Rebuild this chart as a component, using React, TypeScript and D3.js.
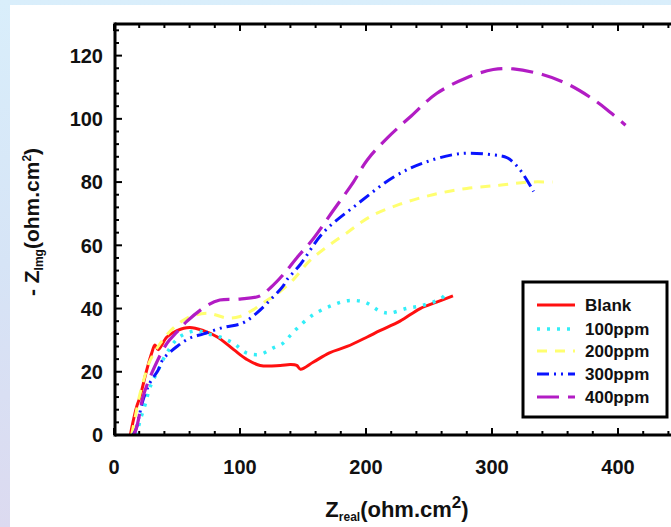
import React from "react";
import * as d3 from "d3";

const W = 671;
const H = 527;

const blankX = [13, 15, 18, 20.6, 26, 30, 32.5, 35, 42, 50, 60, 71, 82, 95, 105, 116, 132, 140, 145, 148, 158, 171, 185, 201, 211, 227, 243, 256, 269];
const blankY = [0, 4, 9, 12, 20.6, 26, 28.5, 27, 31, 33, 34, 33, 31, 27, 24, 22, 22, 22.3, 22, 20.8, 23, 26, 28, 31, 33, 36, 40, 42, 44];

const p100X = [17, 19, 21, 25, 28.5, 35, 42, 52, 66, 74, 84, 95, 105, 116, 126, 134, 140, 146, 158, 173, 186, 199, 212, 219, 232, 245, 259, 262];
const p100Y = [0, 2, 5, 10, 15, 20.5, 26, 31, 33, 32, 31, 29, 26, 25.5, 27.5, 29, 31.5, 34, 38, 41, 42.5, 42, 39, 38.6, 40, 41, 43, 44];

const p200X = [14, 17, 20, 24, 28, 35, 45, 58, 74, 90, 100, 110, 121, 129, 142, 155, 169, 185, 203, 227, 253, 280, 306, 328, 348];
const p200Y = [0, 6, 12, 18, 23, 28, 33, 37, 38.5, 37, 37.5, 39.5, 42.5, 44.5, 49, 55, 59.5, 64, 69, 73, 76, 78, 79, 80, 80];

const p300X = [15, 16.5, 18, 20, 23, 28.5, 35, 39, 50, 60, 71, 86.5, 102, 113, 124, 134, 137, 148, 166, 193, 222, 245, 275, 301, 312, 322, 333];
const p300Y = [0, 1, 2.5, 6, 11, 16.5, 20.5, 24, 28, 30.6, 32, 34, 35.4, 38.5, 42.7, 47, 49, 54, 64, 73, 81.6, 86, 89, 88.6, 87.7, 84, 77];

const p400X = [16, 18, 20, 23, 31, 42, 50, 58, 74, 84, 100, 116, 124, 134, 145, 158, 174, 190, 201, 217, 235, 256, 280, 301, 317, 340, 360, 381, 394, 406];
const p400Y = [0, 2.5, 6, 12, 20.5, 29, 32.6, 36, 41, 42.7, 43, 44, 46.5, 50.6, 56, 62, 71, 80, 87, 94, 100.6, 108, 113, 115.6, 115.8, 114, 111, 106, 102, 98];

const seriesNames = ["Blank", "100ppm", "200ppm", "300ppm", "400ppm"];
const seriesColors = ["#ff1010", "#33eef8", "#ffff70", "#0a14ff", "#b21cc4"];
const seriesDash = ["", "3 7", "10 8", "12 5 2 5 2 5", "22 9"];
const seriesWidth = [3, 3.5, 3, 3, 3.2];
const seriesX = [blankX, p100X, p200X, p300X, p400X];
const seriesY = [blankY, p100Y, p200Y, p300Y, p400Y];

const xMajor = [0, 100, 200, 300, 400];
const yMajor = [0, 20, 40, 60, 80, 100, 120];

const FONT = "'Liberation Sans', Arial, sans-serif";

export default function App() {
  const left = 115;
  const top = 24;
  const bottom = 435;
  const x = d3.scaleLinear().domain([0, 450]).range([left - 1, left - 1 + 450 * 1.26]);
  const y = d3.scaleLinear().domain([0, 130]).range([bottom, top]);
  const right = x(450);

  const xMinor = d3.range(0, 451, 20);
  const yMinor = d3.range(0, 130, 4);

  const line = d3
    .line<[number, number]>()
    .x((d) => x(d[0]))
    .y((d) => y(d[1]))
    .curve(d3.curveCatmullRom.alpha(0.5));

  const legX = 523;
  const legY = 282;
  const legRows = [305, 329, 351, 374, 397];

  return (
    <svg width={W} height={H} style={{ position: "absolute", left: 0, top: 0 }} fontFamily={FONT}>
      <defs>
        <linearGradient id="bg" x1="0" y1="0" x2="0" y2="1">
          <stop offset="0" stopColor="#d9eefb" />
          <stop offset="0.5" stopColor="#d6e4f6" />
          <stop offset="1" stopColor="#dcdaf0" />
        </linearGradient>
        <clipPath id="plot">
          <rect x={left} y={top} width={right - left} height={bottom - top} />
        </clipPath>
      </defs>
      <rect x={0} y={0} width={W} height={H} fill="url(#bg)" />
      <rect x={10} y={5} width={W - 10} height={H - 5} fill="#ffffff" />

      <g clipPath="url(#plot)">
        {seriesNames.map((name, i) => {
          const pts = seriesX[i].map((v, j) => [v, seriesY[i][j]] as [number, number]);
          return (
            <path
              key={name}
              d={line(pts) || ""}
              fill="none"
              stroke={seriesColors[i]}
              strokeWidth={seriesWidth[i]}
              strokeDasharray={seriesDash[i] || undefined}
              strokeLinecap="butt"
              strokeLinejoin="round"
            />
          );
        })}
      </g>

      {/* ticks */}
      <g stroke="#000" strokeWidth={2}>
        {xMinor.map((v) => {
          const len = v % 100 === 0 ? 7 : 4;
          return (
            <g key={"xt" + v}>
              <line x1={x(v)} x2={x(v)} y1={bottom} y2={bottom - len} />
              <line x1={x(v)} x2={x(v)} y1={top} y2={top + len} />
            </g>
          );
        })}
        {yMinor.map((v) => {
          const len = v % 20 === 0 ? 7 : 4;
          return <line key={"yt" + v} x1={left} x2={left + len} y1={y(v)} y2={y(v)} />;
        })}
      </g>

      {/* frame */}
      <g stroke="#000" strokeWidth={3} fill="none">
        <line x1={left} x2={W + 20} y1={top} y2={top} />
        <line x1={left} x2={W + 20} y1={bottom} y2={bottom} />
        <line x1={left} x2={left} y1={top - 1.5} y2={bottom + 1.5} />
      </g>

      {/* tick labels */}
      <g fontSize={20} fontWeight="bold" fill="#111">
        {xMajor.map((v) => (
          <text key={"xl" + v} x={x(v)} y={474} textAnchor="middle">
            {v}
          </text>
        ))}
        {yMajor.map((v) => (
          <text key={"yl" + v} x={103} y={y(v)} dy="0.36em" textAnchor="end">
            {v}
          </text>
        ))}
      </g>

      {/* axis titles */}
      <text x={397} y={517} textAnchor="middle" fontSize={22} fontWeight="bold" fill="#111">
        Z<tspan fontSize={12} dy={4}>real</tspan>
        <tspan dy={-4}>(ohm.cm</tspan>
        <tspan fontSize={17} dy={-9}>2</tspan>
        <tspan dy={9}>)</tspan>
      </text>
      <text
        transform={`translate(39,222) rotate(-90)`}
        textAnchor="middle"
        fontSize={21}
        fontWeight="bold"
        fill="#111"
      >
        - Z<tspan fontSize={12} dy={4}>Img</tspan>
        <tspan dy={-4}>(ohm.cm</tspan>
        <tspan fontSize={12} dy={-8}>2</tspan>
        <tspan dy={8}>)</tspan>
      </text>

      {/* legend */}
      <rect x={legX} y={legY} width={144} height={135} fill="#fff" stroke="#000" strokeWidth={3} />
      {seriesNames.map((name, i) => (
        <g key={"lg" + name}>
          <line
            x1={537}
            x2={575}
            y1={legRows[i]}
            y2={legRows[i]}
            stroke={seriesColors[i]}
            strokeWidth={seriesWidth[i]}
            strokeDasharray={seriesDash[i] || undefined}
          />
          <text x={585} y={legRows[i]} dy="0.36em" fontSize={17} fontWeight="bold" fill="#111">
            {name}
          </text>
        </g>
      ))}
    </svg>
  );
}
